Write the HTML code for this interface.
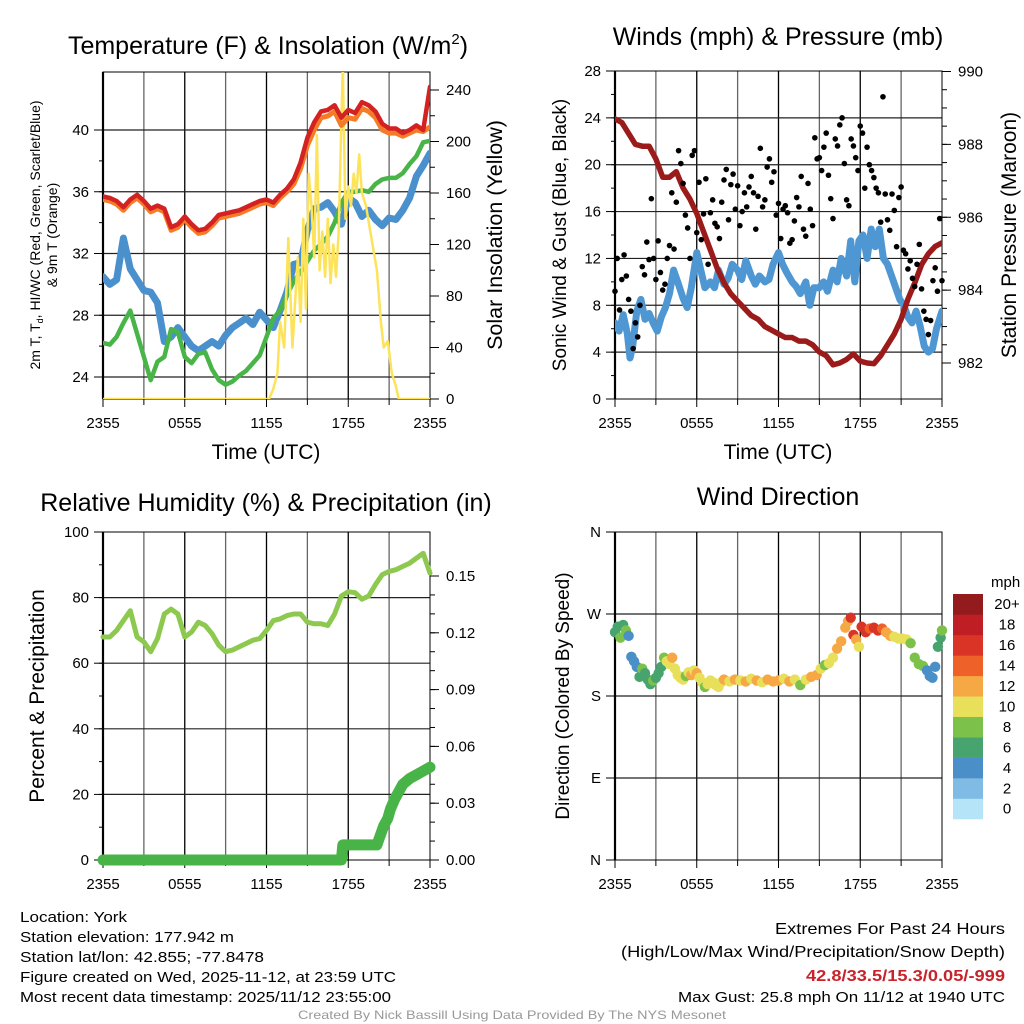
<!DOCTYPE html>
<html><head><meta charset="utf-8"><style>
html,body{margin:0;padding:0;background:#fff;}
svg{display:block;font-family:"Liberation Sans",Arial,sans-serif;}
</style></head><body>
<svg id="c" width="1024" height="1024" viewBox="0 0 1024 1024" xmlns="http://www.w3.org/2000/svg">
<g font-size="25" text-anchor="middle" fill="#000">
<text x="268" y="54">Temperature (F) &amp; Insolation (W/m<tspan font-size="15" dy="-10">2</tspan><tspan dy="10">)</tspan></text>
<text x="778" y="45">Winds (mph) &amp; Pressure (mb)</text>
<text x="266" y="511">Relative Humidity (%) &amp; Precipitation (in)</text>
<text x="778" y="505">Wind Direction</text>
</g>
<g font-size="21" text-anchor="middle">
<text x="266" y="459">Time (UTC)</text>
<text x="778" y="459">Time (UTC)</text>
<text transform="translate(502,235) rotate(-90)" font-size="21.5">Solar Insolation (Yellow)</text>
<text transform="translate(566,235) rotate(-90)" font-size="19">Sonic Wind &amp; Gust (Blue, Black)</text>
<text transform="translate(1016,235) rotate(-90)">Station Pressure (Maroon)</text>
<text transform="translate(44,696) rotate(-90)">Percent &amp; Precipitation</text>
<text transform="translate(569,696) rotate(-90)" font-size="19">Direction (Colored By Speed)</text>
</g>
<g font-size="14" text-anchor="middle">
<text transform="translate(40,235) rotate(-90)">2m T, T<tspan font-size="9" dy="3">d</tspan><tspan dy="-3">, HI/WC (Red, Green, Scarlet/Blue)</tspan></text>
<text transform="translate(57,235) rotate(-90)">&amp; 9m T (Orange)</text>
</g>
<g font-size="15" fill="#000">
<text x="20" y="922" textLength="107" lengthAdjust="spacingAndGlyphs">Location: York</text>
<text x="20" y="942" textLength="214" lengthAdjust="spacingAndGlyphs">Station elevation: 177.942 m</text>
<text x="20" y="962" textLength="244" lengthAdjust="spacingAndGlyphs">Station lat/lon: 42.855; -77.8478</text>
<text x="20" y="982" textLength="376" lengthAdjust="spacingAndGlyphs">Figure created on Wed, 2025-11-12, at 23:59 UTC</text>
<text x="20" y="1002" textLength="371" lengthAdjust="spacingAndGlyphs">Most recent data timestamp: 2025/11/12 23:55:00</text>
<text x="1005" y="934" text-anchor="end" font-size="16" textLength="230" lengthAdjust="spacingAndGlyphs">Extremes For Past 24 Hours</text>
<text x="1005" y="957" text-anchor="end" font-size="16" textLength="384" lengthAdjust="spacingAndGlyphs">(High/Low/Max Wind/Precipitation/Snow Depth)</text>
<text x="1005" y="981" text-anchor="end" fill="#c8232a" font-weight="bold" font-size="16" textLength="199" lengthAdjust="spacingAndGlyphs">42.8/33.5/15.3/0.05/-999</text>
<text x="1005" y="1002" text-anchor="end" textLength="327" lengthAdjust="spacingAndGlyphs">Max Gust: 25.8 mph On 11/12 at 1940 UTC</text>
<text x="512" y="1019" text-anchor="middle" fill="#999" font-size="12" textLength="428" lengthAdjust="spacingAndGlyphs">Created By Nick Bassill Using Data Provided By The NYS Mesonet</text>
</g>
</svg>
<script>
// ---- data ----
const halfHourTimes=[0,0.5,1,1.5,2,2.5,3,3.5,4,4.5,5,5.5,6,6.5,7,7.5,8,8.5,9,9.5,10,10.5,11,11.5,12,12.5,13,13.5,14,14.5,15,15.5,16,16.5,17,17.5,18,18.5,19,19.5,20,20.5,21,21.5,22,22.5,23,23.5,24];
const xTickLabels=["2355","0555","1155","1755","2355"];
const tempRed=[35.7,35.6,35.4,35.0,35.5,35.8,35.4,34.9,35.1,34.9,33.7,33.9,34.4,33.9,33.5,33.6,34.0,34.5,34.6,34.7,34.8,35.0,35.2,35.4,35.5,35.3,35.8,36.2,36.8,37.9,39.5,40.5,41.2,41.3,41.6,40.8,41.3,41.1,41.8,41.6,41.2,40.4,40.1,40.1,39.8,40.0,40.3,40.0,42.8];
const temp9mOrange=[35.5,35.4,35.2,34.8,35.3,35.6,35.2,34.7,34.9,34.7,33.5,33.7,34.2,33.7,33.3,33.4,33.8,34.3,34.4,34.5,34.6,34.8,35.0,35.2,35.3,35.1,35.6,36.0,36.5,37.5,39.0,40.0,40.8,40.9,41.2,40.3,40.8,40.7,41.4,41.2,40.8,40.0,39.8,39.8,39.6,39.8,40.0,39.9,40.2];
const dewGreen=[26.2,26.1,26.6,27.5,28.3,26.8,25.3,23.8,25.0,25.3,27.1,26.9,25.3,24.9,25.5,25.6,24.5,23.8,23.5,23.7,24.1,24.4,24.9,25.4,26.6,27.8,28.3,29.3,30.2,30.8,31.5,32.2,32.6,33.1,34.0,35.3,36.0,36.0,36.1,36.0,36.5,36.8,36.9,36.9,37.2,37.8,38.3,39.2,39.3];
const windChillBlue=[30.5,30.0,30.3,33.0,31.0,30.3,29.6,29.5,28.8,26.3,26.6,27.2,26.6,26.0,25.7,26.0,26.3,26.0,26.7,27.2,27.5,27.8,27.4,28.2,27.7,27.2,28.3,29.5,31.3,31.4,33.5,34.9,35.0,35.3,34.7,33.9,35.6,35.3,34.4,34.8,34.2,33.8,34.3,34.2,34.8,35.6,37.0,37.7,38.5];
const solarTimes=[0,12.2,12.5,12.8,13.0,13.3,13.6,13.9,14.3,14.5,14.7,14.9,15.1,15.3,15.5,15.7,15.9,16.1,16.3,16.5,16.7,16.9,17.1,17.3,17.6,17.8,18.0,18.2,18.4,18.6,18.8,19.0,19.3,19.7,20.1,20.4,20.6,20.9,21.2,21.5,21.7,24];
const solarValues=[0,0,8,20,60,40,125,40,110,60,140,70,175,150,110,205,100,130,95,140,90,120,95,130,260,140,165,150,175,160,190,160,150,125,100,60,40,45,20,10,0,0];
const tempTicks=[24,28,32,36,40];
const solarTicks=[0,40,80,120,160,200,240];
const pressure=[988.7,988.6,988.3,988.0,987.95,987.95,987.6,987.1,987.1,987.25,986.8,986.5,986.1,985.6,985.1,984.6,984.2,983.9,983.7,983.5,983.3,983.2,983.0,982.9,982.8,982.7,982.7,982.6,982.6,982.5,982.3,982.2,981.95,982.0,982.1,982.25,982.05,982.0,981.98,982.2,982.5,982.8,983.2,983.75,984.2,984.7,985.0,985.2,985.3];
const windTimes=[0,0.3,0.6,0.9,1.1,1.3,1.6,1.9,2.2,2.5,2.8,3.1,3.4,3.7,4.0,4.3,4.6,5.0,5.3,5.6,6.0,6.3,6.6,7.0,7.3,7.6,8.0,8.3,8.6,9.0,9.3,9.6,10.0,10.3,10.6,11.0,11.3,11.6,12.0,12.3,12.6,13.0,13.3,13.6,14.0,14.3,14.6,15.0,15.3,15.6,16.0,16.3,16.6,17.0,17.3,17.6,17.9,18.2,18.5,18.8,19.1,19.4,19.7,20.0,20.3,20.6,20.9,21.2,21.5,21.8,22.1,22.4,22.7,23.0,23.3,23.6,24];
const windSpeed=[6.5,5.8,7.2,5.6,3.5,4.5,7.5,8.5,6.8,7.3,6.5,5.8,7.0,7.8,9.0,11.0,10.0,8.6,7.8,9.5,12.5,11.0,9.5,10.0,9.5,11.0,9.8,10.3,11.5,11.0,10.2,11.8,10.5,9.8,10.5,10.0,10.2,11.5,12.5,11.5,10.8,10.0,9.6,9.0,10.0,8.0,9.5,9.5,10.0,9.2,11.0,10.0,12.0,10.5,13.5,10.0,13.5,14.0,12.0,14.5,13.0,14.5,12.0,11.5,10.5,9.5,8.5,8.0,7.0,6.5,7.5,6.2,4.5,4.0,4.3,6.0,7.5];
const gustValues=[9.2,12.0,7.6,10.2,12.3,10.5, 8.5,7.5,4.3,6.5,5.3,8.0, 11.3,10.6,13.4,11.9,17.1,12.0, 10.2,13.5,10.8,9.3,9.8,12.0, 13.1,17.6,12.8,16.8,21.2,20.1, 18.4,15.7,14.6,12.0,20.8,21.2, 14.2,18.5,13.6,15.8,18.8,11.5, 15.9,17.0,15.0,14.7,13.7,16.8, 18.7,19.6,15.3,18.3,19.2,16.2, 18.2,14.8,16.0,17.6,16.4,18.1, 19.0,17.6,14.5,17.3,21.4,16.4, 17.0,19.8,20.5,18.5,19.4,15.7, 16.7,13.7,16.2,16.5,15.9,13.3, 13.6,15.2,17.2,16.4,19.0,14.5, 13.9,18.4,16.2,14.8,22.3,20.5, 20.6,19.5,21.5,22.7,19.1,17.1, 15.4,22.2,21.6,23.4,24.0,20.1, 17.0,16.5,22.2,21.6,20.6,19.5, 23.3,22.7,18.0,21.5,20.0,19.5, 18.9,18.0,17.6,15.1,25.8,17.5, 15.3,14.4,17.5,16.1,13.0,17.2, 18.1,12.7,12.4,11.1,11.8,10.3, 9.6,11.5,13.2,9.4,7.5,6.8, 5.5,6.7,10.1,11.2,9.2,15.4, 10.1];
const windTicks=[0,4,8,12,16,20,24,28];
const pressureTicks=[982,984,986,988,990];
const relHumidity=[68,68,70,73,76,68,66.5,63.5,67.5,75,76.5,75,68,69.5,72.5,71.5,69,65.5,63.5,64,65,66,67,67.5,70,73,73.5,74.5,75,75,72.5,72,72,71.5,75,80.5,81.8,81.5,79.5,80.5,84,87,88,88.5,89.5,90.5,92,93.5,87.5];
const precipTimes=[0,17.5,17.6,20.1,20.3,20.6,20.9,21.1,21.4,21.7,22.0,22.5,23.0,23.5,24];
const precipValues=[0,0,0.008,0.008,0.012,0.018,0.022,0.027,0.032,0.036,0.040,0.043,0.045,0.047,0.049];
const rhTicks=[0,20,40,60,80,100];
const precipTicks=[0,0.03,0.06,0.09,0.12,0.15];
const precipTickLabels=["0.00","0.03","0.06","0.09","0.12","0.15"];
const dirTimes=[0,0.2,0.4,0.6,0.8,1.0,1.2,1.4,1.6,1.8,2.0,2.2,2.4,2.6,2.8,3.0,3.2,3.4,3.6,3.8,4.0,4.2,4.4,4.6,4.8,5.0,5.2,5.4,5.6,5.8,6.0,6.2,6.4,6.6,6.8,7.0,7.2,7.4,7.6,7.8,8.0,8.4,8.8,9.2,9.6,10.0,10.4,10.8,11.2,11.6,12.0,12.4,12.8,13.2,13.6,14.0,14.4,14.8,15.1,15.4,15.7,16.0,16.3,16.6,16.9,17.1,17.3,17.5,17.7,17.9,18.1,18.4,18.7,19.0,19.3,19.6,19.9,20.2,20.5,20.8,21.1,21.4,21.7,22.0,22.3,22.6,22.9,23.1,23.3,23.5,23.7,23.9,24.0];
const dirValues=[250,256,244,258,252,246,223,218,212,201,210,205,198,193,197,200,205,212,222,218,215,222,210,203,200,198,202,206,203,208,205,200,195,190,193,197,195,192,190,195,198,196,198,197,196,199,197,195,198,196,197,199,196,198,192,198,201,203,210,214,216,222,232,240,255,262,266,247,242,234,256,250,254,255,252,254,250,246,245,243,243,242,238,222,215,213,208,202,200,212,234,244,252];
const dirSpeeds=[6,6,7,6,7,4,4,4,4,6,7,6,6,6,7,6,6,6,7,10,10,12,10,10,9,9,8,10,11,10,12,9,10,8,10,9,10,10,9,10,12,10,12,10,12,10,12,10,12,12,12,10,12,10,7,10,12,12,10,8,10,10,12,12,12,12,15,16,12,10,16,15,14,15,15,14,12,12,10,10,10,10,8,7,7,8,4,4,4,4,6,6,8];
const dirTickLabels=["N","E","S","W","N"];
const speedColors=["#b5e3f7","#80bbe5","#4a8fc7","#47a46e","#7cc24a","#e8e05b","#f6a844","#ee6129","#d93426","#bf1e25","#931a1d"];
const speedLabels=["0","2","4","6","8","10","12","14","16","18","20+"];

// ---- helpers ----
const NS="http://www.w3.org/2000/svg";
const svg=document.getElementById('c');
function mk(tag,parent){const e=document.createElementNS(NS,tag);(parent||svg).appendChild(e);return e;}
function group(name){const g=mk('g');return g;}
function lin(d0,d1,r0,r1){return v=>r0+(v-d0)*(r1-r0)/(d1-d0);}
function line(p,x1,y1,x2,y2,stroke,w){const l=mk('line',p);l.setAttribute('x1',x1);l.setAttribute('y1',y1);l.setAttribute('x2',x2);l.setAttribute('y2',y2);l.setAttribute('stroke',stroke);l.setAttribute('stroke-width',w);return l;}
function txt(p,x,y,s,anchor,size){const t=mk('text',p);t.setAttribute('x',x);t.setAttribute('y',y);t.setAttribute('text-anchor',anchor);t.setAttribute('font-size',size||15);t.textContent=s;return t;}
function poly(p,xs,ys,sx,sy,color,w,clip){const pl=mk('polyline',p);pl.setAttribute('points',xs.map((t,i)=>sx(t).toFixed(1)+','+sy(ys[i]).toFixed(1)).join(' '));pl.setAttribute('fill','none');pl.setAttribute('stroke',color);pl.setAttribute('stroke-width',w);pl.setAttribute('stroke-linejoin','round');pl.setAttribute('stroke-linecap','round');if(clip)pl.setAttribute('clip-path','url(#'+clip+')');return pl;}
function clipRect(id,x,y,w,h){let d=svg.querySelector('defs')||mk('defs');const c=mk('clipPath',d);c.setAttribute('id',id);const r=mk('rect',c);r.setAttribute('x',x);r.setAttribute('y',y);r.setAttribute('width',w);r.setAttribute('height',h);}

function frame(name,L,R,T,B,sy,hTicks,minorStep,leftLabels,labelFmt){
  const g=group(name);
  const sx=lin(0,24,L,R);
  for(let h=3;h<24;h+=3){line(g,sx(h),T,sx(h),B,h%6===0?'#000':'#666',1.3);}
  hTicks.forEach(v=>{const y=sy(v);if(y>T+1&&y<B-1)line(g,L,y,R,y,'#222',1.2);});
  for(let v=hTicks[0];v<=hTicks[hTicks.length-1]+1e-9;v+=minorStep){const y=sy(v);line(g,L-4,y,L,y,'#000',1);}
  hTicks.forEach((v,i)=>{const y=sy(v);line(g,L-9,y,L,y,'#000',1);if(leftLabels)txt(g,L-14,y+5,labelFmt?labelFmt(v,i):String(v),'end',15);});
  for(let h=0;h<=24;h+=3){line(g,sx(h),B,sx(h),B+(h%6===0?8:6),'#000',1);}
  xTickLabels.forEach((s,i)=>{const t=txt(g,sx(i*6),B+29,s,'middle',15);});
  const r=mk('rect',g);r.setAttribute('x',L);r.setAttribute('y',T);r.setAttribute('width',R-L);r.setAttribute('height',B-T);r.setAttribute('fill','none');r.setAttribute('stroke','#000');r.setAttribute('stroke-width',1);
  line(g,L,T,L,B,'#000',2.2);
  return {g,sx};
}
function rightAxis(g,R,sy,ticks,minorStep,labels){
  for(let v=ticks[0];v<=ticks[ticks.length-1]+1e-9;v+=minorStep){const y=sy(v);line(g,R,y,R+5,y,'#000',1);}
  ticks.forEach((v,i)=>{const y=sy(v);line(g,R,y,R+9,y,'#000',1);txt(g,R+16,y+5,labels?labels[i]:String(v),'start',15);});
}

// ---- panel 1: temperature ----
{const L=103,R=430,T=72,B=399;
 const sy=lin(24,40,377,130);const sr=lin(0,240,399,90);
 const f=frame('temperature-panel',L,R,T,B,sy,tempTicks,2,true);
 rightAxis(f.g,R,sr,solarTicks,20);
 clipRect('clip1',L,T,R-L,B-T);
 const sx=f.sx;
 const s1=poly(f.g,halfHourTimes,windChillBlue,sx,sy,'#4a90cd',7,'clip1');
 
 
 const s2=poly(f.g,halfHourTimes,dewGreen,sx,sy,'#49b448',4.5,'clip1');
 
 
 const s3=poly(f.g,solarTimes,solarValues,sx,sr,'#fde35a',2.5,'clip1');
 
 
 const s4=poly(f.g,halfHourTimes,temp9mOrange,sx,sy,'#f47c27',5,'clip1');
 
 
 const s5=poly(f.g,halfHourTimes,tempRed,sx,sy,'#d42121',4.5,'clip1');
 
 
}
// ---- panel 2: winds ----
{const L=615,R=942,T=71,B=399;
 const sy=lin(0,28,399,71);const sp=lin(982,990,363,71.5);
 const f=frame('winds-panel',L,R,T,B,sy,windTicks,2,true);
 rightAxis(f.g,R,sp,pressureTicks,0.5);
 clipRect('clip2',L,T,R-L,B-T);
 const sx=f.sx;
 const w=poly(f.g,windTimes,windSpeed,sx,sy,'#4f97d2',7,'clip2');
 
 
 const pr=poly(f.g,halfHourTimes,pressure,sx,sp,'#9b1b1b',5.5,'clip2');
 
 
 const gg=group('gust-points');f.g.appendChild(gg);
 gustValues.forEach((v,i)=>{const c=mk('circle',gg);
  
  
  c.setAttribute('cx',sx(i/6));c.setAttribute('cy',sy(v));c.setAttribute('r',2.8);c.setAttribute('fill','#000');});
}
// ---- panel 3: humidity ----
{const L=103,R=430,T=532,B=860;
 const sy=lin(0,100,860,532);const spp=lin(0,0.15,860,576);
 const f=frame('humidity-panel',L,R,T,B,sy,rhTicks,10,true);
 rightAxis(f.g,R,spp,precipTicks,0.01,precipTickLabels);
 clipRect('clip3',L-8,T,R-L+16,B-T+8);
 const sx=f.sx;
 const rh=poly(f.g,halfHourTimes,relHumidity,sx,sy,'#8dc94f',5,'clip3');
 
 
 const pp=poly(f.g,precipTimes,precipValues,sx,spp,'#48b448',11,'clip3');
 
 
}
// ---- panel 4: wind direction ----
{const L=615,R=942,T=532,B=860;
 const sy=lin(0,360,860,532);
 const f=frame('wind-direction-panel',L,R,T,B,sy,[0,90,180,270,360],1000,true,(v,i)=>dirTickLabels[i]);
 const sx=f.sx;
 const dg=group('direction-points');f.g.appendChild(dg);
 dirTimes.forEach((t,i)=>{const c=mk('circle',dg);
  
  
  const k=Math.min(10,Math.round(dirSpeeds[i]/2));
  c.setAttribute('cx',sx(t));c.setAttribute('cy',sy(dirValues[i]));c.setAttribute('r',5.2);c.setAttribute('fill',speedColors[k]);});
 const cb=group('speed-colorbar');
 const cbx=953,cbTop=594,bh=20.45;
 txt(cb,991,587,'mph','start',15);
 for(let k=0;k<11;k++){const y=cbTop+(10-k)*bh;const r=mk('rect',cb);
  
  
  r.setAttribute('x',cbx);r.setAttribute('y',y);r.setAttribute('width',30);r.setAttribute('height',bh+0.3);r.setAttribute('fill',speedColors[k]);
  txt(cb,1007,y+bh/2+5,speedLabels[k],'middle',15);}
}
</script>
</body></html>
